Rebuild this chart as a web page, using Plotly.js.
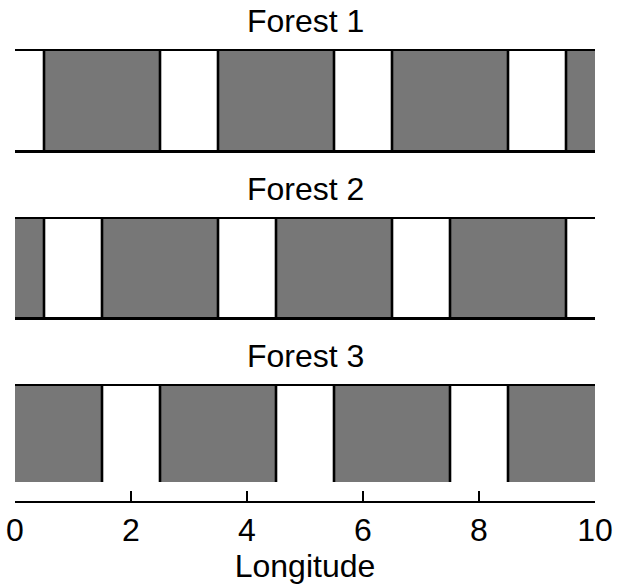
<!DOCTYPE html>
<html>
<head>
<meta charset="utf-8">
<script src="https://cdn.plot.ly/plotly-3.0.1.min.js"></script>
<style>
  html, body { margin: 0; padding: 0; background: #fff; }
  #chart { width: 617px; height: 584px; }
</style>
</head>
<body>
<div id="chart"></div>
<script>
// Forest strips along longitude: gray intervals are forest, gaps are open land
const forestNames = ['Forest 1', 'Forest 2', 'Forest 3'];
const longitudeRange = [0, 10];
const tickValues = [0, 2, 4, 6, 8, 10];
const tickLabels = ['0', '2', '4', '6', '8', '10'];

const forest1Start = [0.5, 3.5, 6.5, 9.5];
const forest1End   = [2.5, 5.5, 8.5, 10];
const forest2Start = [0, 1.5, 4.5, 7.5];
const forest2End   = [0.5, 3.5, 6.5, 9.5];
const forest3Start = [0, 2.5, 5.5, 8.5];
const forest3End   = [1.5, 4.5, 7.5, 10];

const starts = [forest1Start, forest2Start, forest3Start];
const ends = [forest1End, forest2End, forest3End];

const FILL = '#777777';
const INK = '#000000';
const FONT = 'Liberation Sans, Arial, Helvetica, sans-serif';
const FS = 32;

const traces = [];
starts.forEach((s, i) => {
  const e = ends[i];
  const ax = i === 0 ? '' : String(i + 1);
  // filled forest blocks
  traces.push({
    type: 'bar',
    x: s.map((v, k) => (v + e[k]) / 2),
    y: s.map(() => 1),
    base: 0,
    width: s.map((v, k) => e[k] - v),
    marker: { color: FILL, line: { width: 0 } },
    xaxis: 'x' + ax, yaxis: 'y' + ax,
    hoverinfo: 'skip', showlegend: false
  });
  // black edges where forest meets open land (not at the range ends)
  const edgeX = [], edgeY = [];
  s.concat(e).forEach(v => {
    if (v > longitudeRange[0] && v < longitudeRange[1]) {
      edgeX.push(v, v, null);
      edgeY.push(0, 1, null);
    }
  });
  traces.push({
    type: 'scatter', mode: 'lines',
    x: edgeX, y: edgeY,
    line: { color: INK, width: 2.6 },
    xaxis: 'x' + ax, yaxis: 'y' + ax,
    hoverinfo: 'skip', showlegend: false, cliponaxis: false
  });
});
// carrier for the shared longitude axis
traces.push({ type: 'scatter', x: [], y: [], xaxis: 'x4', yaxis: 'y4', showlegend: false });

const stripAxis = {
  range: longitudeRange, showline: true, mirror: true, linecolor: INK, linewidth: 2.5,
  ticks: '', showticklabels: false, showgrid: false, zeroline: false, fixedrange: true
};
const stripY = { range: [0, 1], visible: false, fixedrange: true };

const H = 584;
const dom = (top, bottom) => [1 - bottom / H, 1 - top / H];

const layout = {
  width: 617, height: 584,
  margin: { l: 15, r: 22, t: 0, b: 0 },
  paper_bgcolor: '#fff', plot_bgcolor: '#fff',
  bargap: 0,
  font: { family: FONT, color: INK, size: FS },
  xaxis:  Object.assign({}, stripAxis, { anchor: 'y' }),
  xaxis2: Object.assign({}, stripAxis, { anchor: 'y2' }),
  xaxis3: Object.assign({}, stripAxis, { anchor: 'y3' }),
  yaxis:  Object.assign({}, stripY, { domain: dom(51, 150), anchor: 'x' }),
  yaxis2: Object.assign({}, stripY, { domain: dom(219, 317), anchor: 'x2' }),
  yaxis3: Object.assign({}, stripY, { domain: dom(386, 485), anchor: 'x3' }),
  xaxis4: {
    anchor: 'y4', range: longitudeRange,
    showline: true, linecolor: INK, linewidth: 2,
    ticks: 'inside', ticklen: 10, tickwidth: 1.3, tickcolor: INK,
    tickvals: tickValues, ticktext: tickLabels,
    tickfont: { family: FONT, size: FS, color: INK },
    showgrid: false, zeroline: false, fixedrange: true,
    title: { text: 'Longitude', font: { family: FONT, size: FS, color: INK }, standoff: 12 }
  },
  yaxis4: { domain: dom(482, 501), range: [0, 1], visible: false, fixedrange: true, anchor: 'x4' },
  annotations: forestNames.map((name, i) => ({
    text: name, showarrow: false,
    xref: (i === 0 ? 'x' : 'x' + (i + 1)) + ' domain',
    yref: (i === 0 ? 'y' : 'y' + (i + 1)) + ' domain',
    x: 0.5, y: 1, xanchor: 'center', yanchor: 'bottom', yshift: 10,
    font: { family: FONT, size: FS, color: INK }
  }))
};

Plotly.newPlot('chart', traces, layout, { staticPlot: true, displayModeBar: false });
</script>
</body>
</html>
